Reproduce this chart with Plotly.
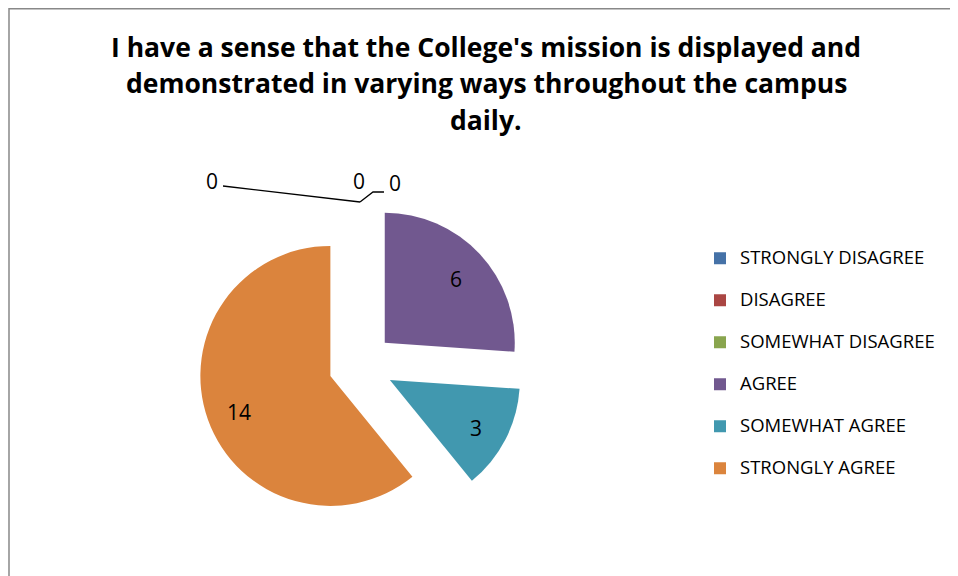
import math

import plotly.graph_objects as go

W, H = 958, 576

title_lines = [
    "I have a sense that the College's mission is displayed and",
    "demonstrated in varying ways throughout the campus",
    "daily.",
]
categories = [
    "STRONGLY DISAGREE",
    "DISAGREE",
    "SOMEWHAT DISAGREE",
    "AGREE",
    "SOMEWHAT AGREE",
    "STRONGLY AGREE",
]
responses = [0, 0, 0, 6, 3, 14]
colors = ["#4572A7", "#AA4643", "#89A54E", "#71588F", "#4198AF", "#DB843D"]

# the page body adds an 8px margin round the figure
OFF = 8
PULL = 0.25
CX, CY, R = 361, 365, 130  # pie centre / radius in window pixels


def px(x, y):
    # window pixel position -> paper coords (margins are zero)
    return (x - OFF) / W, 1 - (y - OFF) / H


half = R * (1 + PULL)
x0, y0 = px(CX - half, CY + half)
x1, y1 = px(CX + half, CY - half)

fig = go.Figure()
fig.add_trace(
    go.Pie(
        labels=[f"<span style='font-size:18.5px'>{c}</span><br> " for c in categories],
        values=responses,
        textinfo="none",
        marker=dict(colors=colors),
        pull=[PULL] * len(responses),
        sort=False,
        direction="clockwise",
        rotation=0,
        domain=dict(x=[x0, x1], y=[y0, y1]),
        hoverinfo="value",
    )
)

annotations = []
for line, yy in zip(title_lines, [47, 83, 120]):
    x, y = px(486, yy)
    annotations.append(
        dict(
            text=f"<b>{line}</b>", x=x, y=y, xref="paper", yref="paper",
            xanchor="center", yanchor="middle", showarrow=False,
            font=dict(family="Open Sans", size=26.5, color="black"),
        )
    )

# slice value labels, placed along each slice's bisector
total = sum(responses)
start = 0
for v in responses:
    if v:
        mid = (start + v / 2) / total * 2 * math.pi
        x, y = px(CX + R * math.sin(mid), CY - R * math.cos(mid) + 3)
        annotations.append(
            dict(
                text=str(v), x=x, y=y, xref="paper", yref="paper",
                xanchor="center", yanchor="middle", showarrow=False,
                font=dict(family="Open Sans", size=21, color="black"),
            )
        )
    start += v

# labels of the empty slices, drawn outside like the original
zero_pos = [(212, 181), (359, 181), (395, 183)]
zero_vals = [v for v in responses if v == 0]
for v, (xx, yy) in zip(zero_vals, zero_pos):
    x, y = px(xx, yy)
    annotations.append(
        dict(
            text=str(v), x=x, y=y, xref="paper", yref="paper",
            xanchor="center", yanchor="middle", showarrow=False,
            font=dict(family="Open Sans", size=21, color="black"),
        )
    )


def path(points):
    pts = [px(a, b) for a, b in points]
    return "M " + " L ".join(f"{a:.5f},{b:.5f}" for a, b in pts)


shapes = [
    dict(type="path", xref="paper", yref="paper",
         path=path([(223, 186), (360, 202)]),
         line=dict(color="black", width=1.3)),
    dict(type="path", xref="paper", yref="paper",
         path=path([(360, 202), (373, 192), (384, 192)]),
         line=dict(color="black", width=1.3)),
    # chart area border
    dict(type="path", xref="paper", yref="paper",
         path=path([(OFF + 1, 590), (OFF + 1, OFF + 0.8), (990, OFF + 0.8)]),
         line=dict(color="#888888", width=1.5)),
]

lx, ly = px(700, 242)
fig.update_layout(
    width=W,
    height=H,
    margin=dict(l=0, r=0, t=0, b=0),
    paper_bgcolor="white",
    plot_bgcolor="white",
    showlegend=True,
    legend=dict(
        x=lx, y=ly, xanchor="left", yanchor="top",
        valign="top",
        itemwidth=30,
        font=dict(family="Open Sans", size=15, color="black"),
        traceorder="normal",
    ),
    annotations=annotations,
    shapes=shapes,
)

fig.write_html("out.html")
